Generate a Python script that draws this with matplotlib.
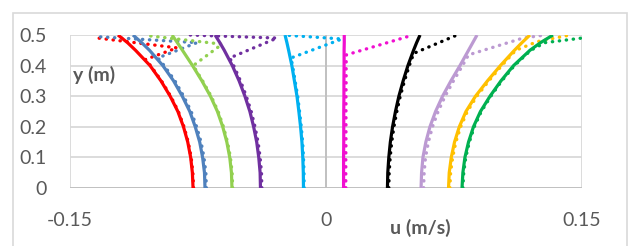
import matplotlib
matplotlib.use("Agg")
import matplotlib.pyplot as plt
from matplotlib.patches import Rectangle

plt.rcParams['font.family'] = ['Lato', 'DejaVu Sans']

# depth points for the model (solid) curves
y_model = [0, 0.05, 0.1, 0.15, 0.2, 0.25, 0.3, 0.35, 0.4, 0.45, 0.475, 0.5]

# model profiles u (m/s)
u_red = [-0.0779, -0.0783, -0.0793, -0.0810, -0.0835, -0.0868, -0.0913, -0.0967, -0.1031, -0.1116, -0.1163, -0.1219]
u_blue = [-0.0709, -0.0712, -0.0723, -0.0740, -0.0766, -0.0798, -0.0842, -0.0893, -0.0956, -0.1034, -0.1080, -0.1131]
u_lgreen = [-0.0551, -0.0554, -0.0564, -0.0581, -0.0605, -0.0636, -0.0677, -0.0727, -0.0782, -0.0841, -0.0871, -0.0902]
u_purple = [-0.0384, -0.0386, -0.0394, -0.0406, -0.0424, -0.0446, -0.0475, -0.0509, -0.0549, -0.0596, -0.0622, -0.0650]
u_cyan = [-0.0132, -0.0133, -0.0136, -0.0141, -0.0149, -0.0159, -0.0170, -0.0185, -0.0200, -0.0219, -0.0229, -0.0240]
u_magenta = [0.0103, 0.0103, 0.0103, 0.0104, 0.0104, 0.0104, 0.0105, 0.0105, 0.0106, 0.0106, 0.0107, 0.0107]
u_black = [0.0360, 0.0362, 0.0368, 0.0377, 0.0390, 0.0407, 0.0427, 0.0452, 0.0480, 0.0513, 0.0531, 0.0551]
u_lilac = [0.0557, 0.0560, 0.0568, 0.0585, 0.0609, 0.0642, 0.0683, 0.0732, 0.0785, 0.0835, 0.0860, 0.0885]
u_yellow = [0.0718, 0.0722, 0.0734, 0.0753, 0.0781, 0.0820, 0.0876, 0.0946, 0.1022, 0.1104, 0.1148, 0.1195]
u_green = [0.0797, 0.0802, 0.0814, 0.0835, 0.0864, 0.0905, 0.0961, 0.1025, 0.1099, 0.1195, 0.1257, 0.1330]

# measured (dotted) profiles
y_d_red = [0, 0.05, 0.1, 0.15, 0.2, 0.25, 0.3, 0.35, 0.4, 0.42, 0.458, 0.492]
d_red = [-0.0776, -0.0780, -0.0790, -0.0807, -0.0832, -0.0865, -0.0910, -0.0964, -0.1028, -0.1058, -0.0873, -0.1365]
y_d_blue = [0, 0.05, 0.1, 0.15, 0.2, 0.25, 0.3, 0.35, 0.4, 0.425, 0.475, 0.495]
d_blue = [-0.0701, -0.0704, -0.0715, -0.0732, -0.0758, -0.0790, -0.0834, -0.0885, -0.0948, -0.0985, -0.0756, -0.1353]
y_d_lgreen = [0, 0.05, 0.1, 0.15, 0.2, 0.25, 0.3, 0.35, 0.4, 0.47, 0.497]
d_lgreen = [-0.0547, -0.0550, -0.0560, -0.0577, -0.0601, -0.0632, -0.0673, -0.0723, -0.0778, -0.0609, -0.1031]
y_d_purple = [0, 0.05, 0.1, 0.15, 0.2, 0.25, 0.3, 0.35, 0.4, 0.425, 0.49, 0.5]
d_purple = [-0.0376, -0.0378, -0.0386, -0.0398, -0.0416, -0.0438, -0.0467, -0.0501, -0.0541, -0.0564, -0.0287, -0.0797]
y_d_cyan = [0, 0.05, 0.1, 0.15, 0.2, 0.25, 0.3, 0.35, 0.4, 0.425, 0.487, 0.5]
d_cyan = [-0.0128, -0.0129, -0.0132, -0.0137, -0.0145, -0.0155, -0.0166, -0.0181, -0.0196, -0.0205, 0.0094, -0.0252]
y_d_magenta = [0, 0.05, 0.1, 0.15, 0.2, 0.25, 0.3, 0.35, 0.4, 0.435, 0.5]
d_magenta = [0.0116, 0.0116, 0.0116, 0.0117, 0.0117, 0.0117, 0.0117, 0.0118, 0.0118, 0.0119, 0.0510]
y_d_black = [0, 0.05, 0.1, 0.15, 0.2, 0.25, 0.3, 0.35, 0.4, 0.44, 0.5]
d_black = [0.0368, 0.0370, 0.0376, 0.0385, 0.0398, 0.0415, 0.0435, 0.0460, 0.0488, 0.0514, 0.0768]
y_d_lilac = [0, 0.05, 0.1, 0.15, 0.2, 0.25, 0.3, 0.35, 0.4, 0.435, 0.49, 0.5]
d_lilac = [0.0572, 0.0575, 0.0583, 0.0600, 0.0624, 0.0657, 0.0698, 0.0747, 0.0800, 0.0835, 0.1154, 0.1283]
y_d_yellow = [0, 0.05, 0.1, 0.15, 0.2, 0.25, 0.3, 0.35, 0.4, 0.45, 0.478, 0.5]
d_yellow = [0.0726, 0.0730, 0.0742, 0.0761, 0.0789, 0.0828, 0.0884, 0.0954, 0.1030, 0.1112, 0.1236, 0.1430]
y_d_green = [0, 0.05, 0.1, 0.15, 0.2, 0.25, 0.3, 0.35, 0.4, 0.45, 0.475, 0.49]
d_green = [0.0802, 0.0807, 0.0819, 0.0840, 0.0869, 0.0910, 0.0966, 0.1030, 0.1104, 0.1200, 0.1283, 0.1500]

x_ticks = [-0.15, 0, 0.15]
x_ticklabels = ['-0.15', '0', '0.15']
y_ticks = [0, 0.1, 0.2, 0.3, 0.4, 0.5]
y_ticklabels = ['0', '0.1', '0.2', '0.3', '0.4', '0.5']

series = [
    (u_red, y_d_red, d_red, '#FF0000'),
    (u_blue, y_d_blue, d_blue, '#4F81BD'),
    (u_lgreen, y_d_lgreen, d_lgreen, '#92D050'),
    (u_purple, y_d_purple, d_purple, '#7030A0'),
    (u_cyan, y_d_cyan, d_cyan, '#00B0F0'),
    (u_magenta, y_d_magenta, d_magenta, '#F010D0'),
    (u_black, y_d_black, d_black, '#000000'),
    (u_lilac, y_d_lilac, d_lilac, '#BC9AD2'),
    (u_yellow, y_d_yellow, d_yellow, '#FFC000'),
    (u_green, y_d_green, d_green, '#00B050'),
]

grey = '#595959'

fig = plt.figure(figsize=(6.4, 2.46), dpi=100)
ax = fig.add_axes([70 / 640, 58 / 246, 512 / 640, 153 / 246])

# chart frame
fig.patches.append(Rectangle((13 / 640, -0.05), 614 / 640, 1.05 - 13 / 246,
                             transform=fig.transFigure, fill=False,
                             edgecolor='#D9D9D9', linewidth=1.2))

for u_mod, y_d, u_d, c in series:
    ax.plot(u_d, y_d, color=c, linewidth=2.4, linestyle=(0, (0.1, 2.0)),
            dash_capstyle='round', zorder=3)
    ax.plot(u_mod, y_model, color=c, linewidth=2.3, solid_capstyle='butt',
            solid_joinstyle='round', zorder=4)

ax.set_xlim(-0.15, 0.15)
ax.set_ylim(0, 0.5)
ax.set_xticks(x_ticks)
ax.set_xticklabels(x_ticklabels)
ax.set_yticks(y_ticks)
ax.set_yticklabels(y_ticklabels)

ax.grid(True, color='#D9D9D9', linewidth=1.3)
ax.set_axisbelow(True)
for s in ax.spines.values():
    s.set_visible(False)
ax.axvline(0, color='#BFBFBF', linewidth=1.3, zorder=1)
ax.axhline(0, color='#BFBFBF', linewidth=1.3, zorder=1)

ax.tick_params(axis='both', length=0, labelsize=14, labelcolor=grey)
ax.tick_params(axis='x', pad=17)
ax.tick_params(axis='y', pad=17)

ax.text(-0.1485, 0.369, 'y (m)', fontsize=14, fontweight='bold', color=grey,
        ha='left', va='center')
ax.text(0.684, -0.26, 'u (m/s)', transform=ax.transAxes, fontsize=14,
        fontweight='bold', color=grey, ha='center', va='center')

fig.savefig('out.png', dpi=100)
